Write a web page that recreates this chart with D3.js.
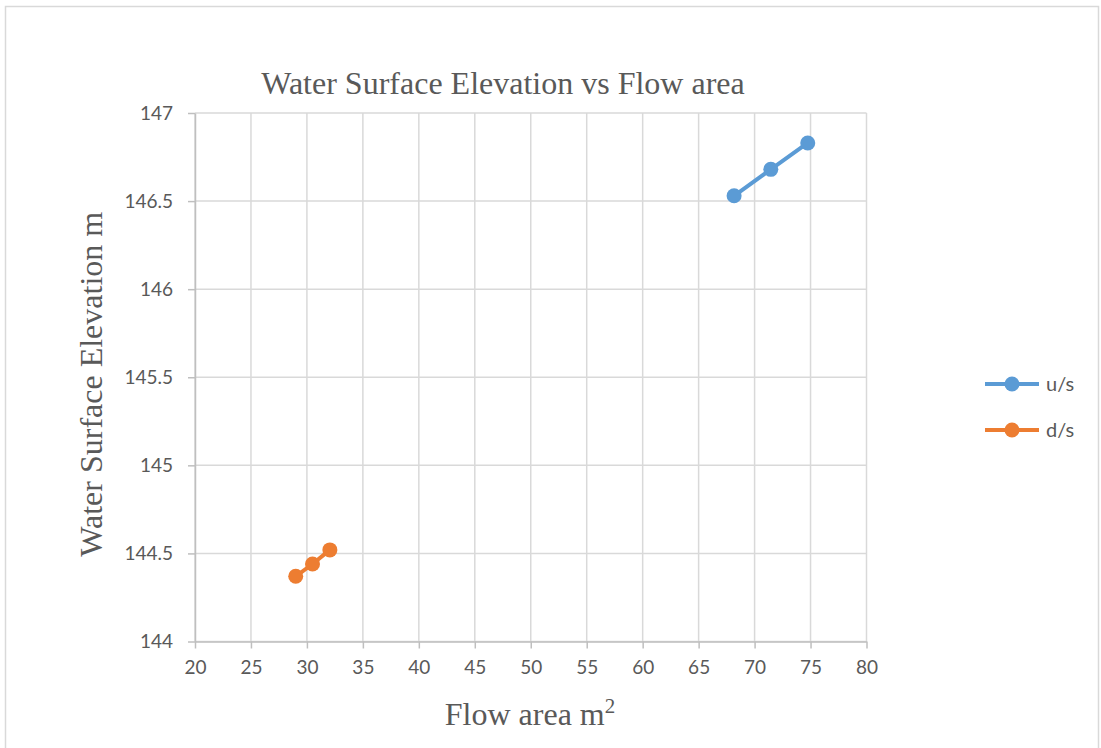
<!DOCTYPE html>
<html>
<head>
<meta charset="utf-8">
<script src="https://cdn.jsdelivr.net/npm/d3@7/dist/d3.min.js"></script>
<style>
  html, body { margin: 0; padding: 0; background: #fff; }
  svg { display: block; }
</style>
</head>
<body>
<svg id="chart" width="1101" height="748"></svg>
<script>
// Flow area (m²) and water surface elevation (m) at the upstream and downstream sections
const upstreamArea = [68.17, 71.45, 74.75];
const upstreamElev = [146.53, 146.68, 146.83];
const downstreamArea = [29.0, 30.5, 32.05];
const downstreamElev = [144.37, 144.44, 144.52];

const seriesNames = ["u/s", "d/s"];
const seriesColors = ["#5B9BD5", "#ED7D31"];

const xTicks = [20, 25, 30, 35, 40, 45, 50, 55, 60, 65, 70, 75, 80];
const yTicks = [144, 144.5, 145, 145.5, 146, 146.5, 147];

const titleText = "Water Surface Elevation vs Flow area";
const xTitle = "Flow area m";
const yTitle = "Water Surface Elevation m";

const series = [
  { name: seriesNames[0], color: seriesColors[0],
    points: upstreamArea.map((a, i) => ({ x: a, y: upstreamElev[i] })) },
  { name: seriesNames[1], color: seriesColors[1],
    points: downstreamArea.map((a, i) => ({ x: a, y: downstreamElev[i] })) }
];

const svg = d3.select("#chart");
const plot = { left: 195, top: 113, right: 866.5, bottom: 641.5 };

const x = d3.scaleLinear().domain([20, 80]).range([plot.left, plot.right]);
const y = d3.scaleLinear().domain([144, 147]).range([plot.bottom, plot.top]);

// Outer chart frame
svg.append("rect")
  .attr("x", 5.5).attr("y", 6.5)
  .attr("width", 1093).attr("height", 760)
  .attr("fill", "#fff").attr("stroke", "#d9d9d9").attr("stroke-width", 1.5);

// Gridlines
const grid = svg.append("g");
grid.selectAll("line.v").data(xTicks).join("line")
  .attr("x1", d => x(d)).attr("x2", d => x(d))
  .attr("y1", plot.top).attr("y2", plot.bottom)
  .attr("stroke", "#d9d9d9").attr("stroke-width", 1.5);
grid.selectAll("line.h").data(yTicks).join("line")
  .attr("x1", plot.left).attr("x2", plot.right)
  .attr("y1", d => y(d)).attr("y2", d => y(d))
  .attr("stroke", "#d9d9d9").attr("stroke-width", 1.5);

// Axes
const axisColor = "#bfbfbf";
const labelColor = "#595959";
const tickFont = "Lato, 'Open Sans', sans-serif";

const xAxis = svg.append("g")
  .attr("transform", `translate(0,${plot.bottom})`)
  .call(d3.axisBottom(x).tickValues(xTicks).tickSize(7).tickSizeOuter(0).tickPadding(9));
const yAxis = svg.append("g")
  .attr("transform", `translate(${plot.left},0)`)
  .call(d3.axisLeft(y).tickValues(yTicks).tickSize(7).tickSizeOuter(0).tickPadding(15)
    .tickFormat(d3.format("")));

[xAxis, yAxis].forEach(g => {
  g.select(".domain").attr("stroke", axisColor).attr("stroke-width", 1.5);
  g.selectAll(".tick line").attr("stroke", axisColor).attr("stroke-width", 1.5);
  g.selectAll(".tick text")
    .attr("fill", labelColor)
    .style("font-family", tickFont)
    .style("font-size", "19px");
});
xAxis.selectAll(".tick text").attr("dy", "0.85em");

// Series lines and markers
const line = d3.line().x(d => x(d.x)).y(d => y(d.y));
series.forEach(s => {
  const g = svg.append("g");
  g.append("path")
    .datum(s.points)
    .attr("d", line)
    .attr("fill", "none")
    .attr("stroke", s.color)
    .attr("stroke-width", 4);
  g.selectAll("circle").data(s.points).join("circle")
    .attr("cx", d => x(d.x)).attr("cy", d => y(d.y))
    .attr("r", 7.5)
    .attr("fill", s.color);
});

// Title
const serif = "'Liberation Serif', 'Times New Roman', serif";
svg.append("text")
  .attr("x", 503).attr("y", 94)
  .attr("text-anchor", "middle")
  .attr("fill", labelColor)
  .style("font-family", serif)
  .style("font-size", "32px")
  .text(titleText);

// Axis titles
const xt = svg.append("text")
  .attr("x", 530).attr("y", 725)
  .attr("text-anchor", "middle")
  .attr("fill", labelColor)
  .style("font-family", serif)
  .style("font-size", "32px");
xt.append("tspan").text(xTitle);
xt.append("tspan").attr("dy", -12).style("font-size", "21px").text("2");

svg.append("text")
  .attr("transform", `translate(102,${(plot.top + plot.bottom) / 2 + 7}) rotate(-90)`)
  .attr("text-anchor", "middle")
  .attr("fill", labelColor)
  .style("font-family", serif)
  .style("font-size", "32px")
  .text(yTitle);

// Legend
const legend = svg.append("g");
series.forEach((s, i) => {
  const ly = 384 + i * 46;
  const g = legend.append("g").attr("transform", `translate(985,${ly})`);
  g.append("line").attr("x1", 0).attr("x2", 54).attr("y1", 0).attr("y2", 0)
    .attr("stroke", s.color).attr("stroke-width", 4);
  g.append("circle").attr("cx", 27).attr("cy", 0).attr("r", 7.5).attr("fill", s.color);
  g.append("text").attr("x", 61).attr("y", 0).attr("dy", "0.35em")
    .attr("fill", labelColor)
    .style("font-family", tickFont)
    .style("font-size", "20px")
    .text(s.name);
});
</script>
</body>
</html>
